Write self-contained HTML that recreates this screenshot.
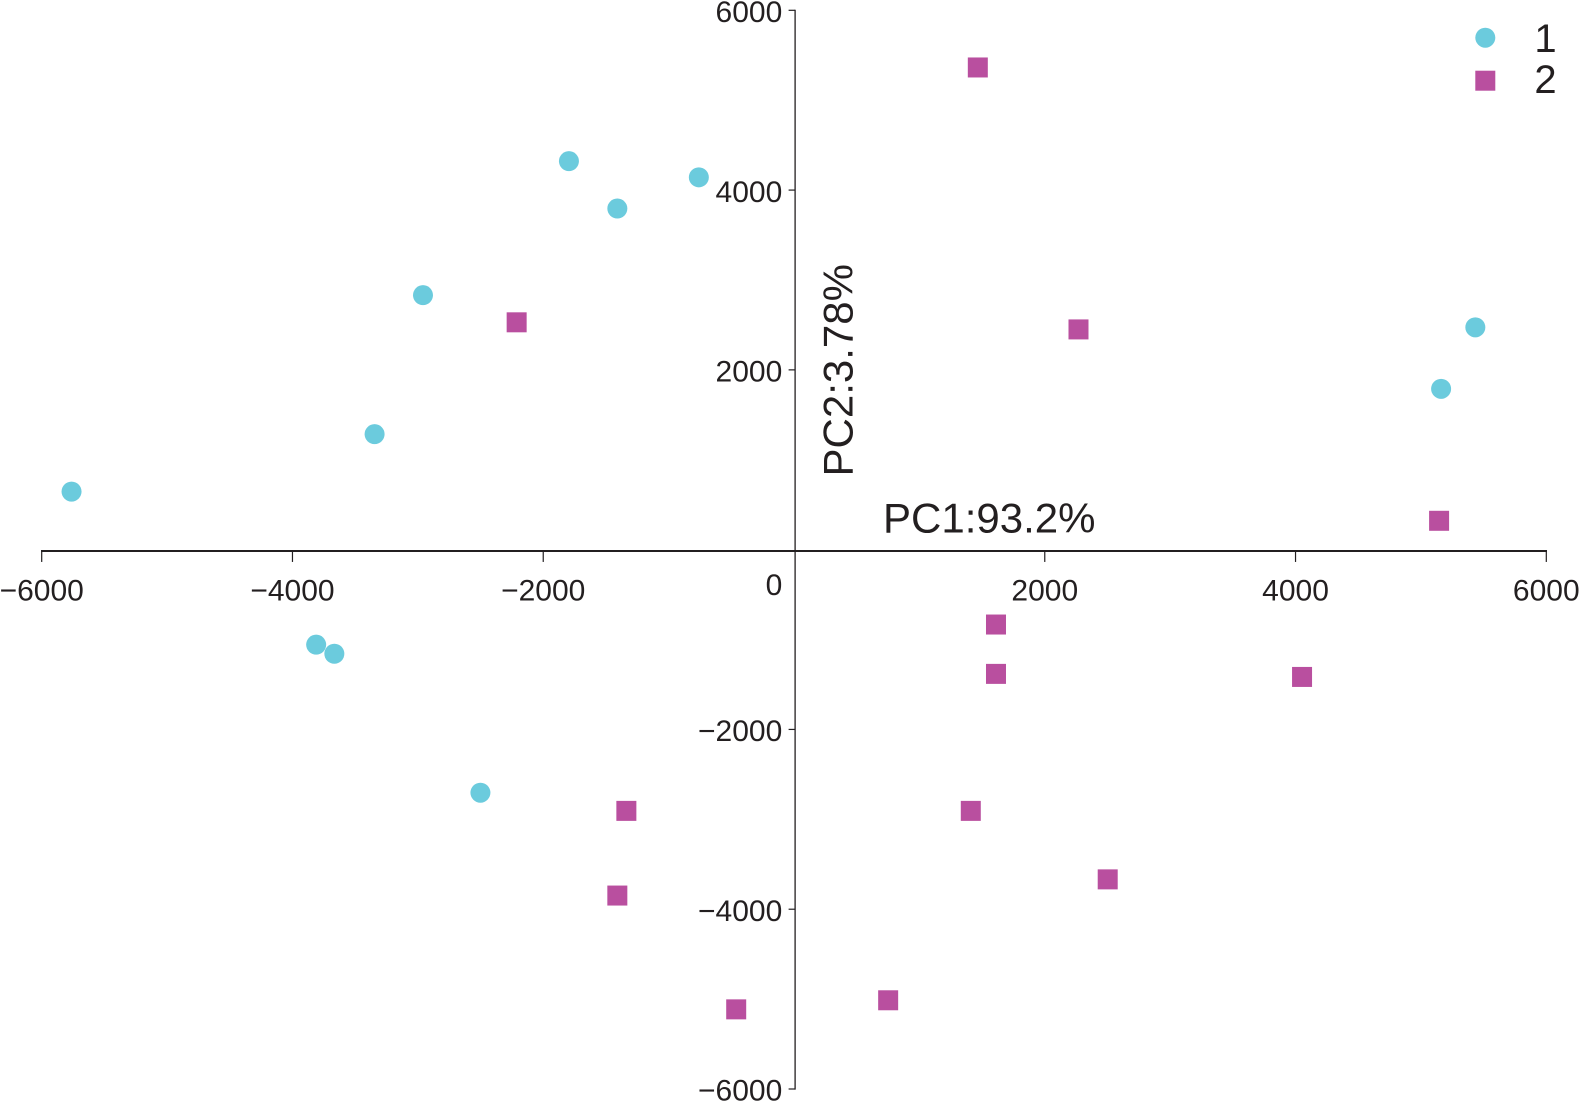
<!DOCTYPE html>
<html lang="en">
<head>
<meta charset="utf-8">
<title>PCA scatter plot</title>
<style>
html,body{margin:0;padding:0;background:#fff;width:1579px;height:1101px;overflow:hidden}
svg{display:block;font-family:"Liberation Sans",Arial,sans-serif;fill:#231f20}
</style>
</head>
<body>
<svg id="chart" xmlns="http://www.w3.org/2000/svg" width="1579" height="1101" viewBox="0 0 1579 1101">
  <text x="883" y="532.5" font-size="42">PC1:93.2%</text>
  <text transform="translate(852.3 476.5) rotate(-90)" font-size="42">PC2:3.78%</text>
  <g>
    <circle cx="1485.3" cy="37.7" r="10" fill="#6bcbdd"></circle>
    <text x="1545.5" y="52" font-size="40" text-anchor="middle">1</text>
    <rect x="1475.3" y="70.7" width="20" height="20" fill="#b94f9f"></rect>
    <text x="1545.5" y="93" font-size="40" text-anchor="middle">2</text>
  </g>
</svg>
<script>
const xTicks = [-6000, -4000, -2000, 2000, 4000, 6000];
const yTicks = [-6000, -4000, -2000, 2000, 4000, 6000];
const series1X = [-5762, -1795, -1409, -759, -2959, -3345, -3811, -3666, -2501, 5434, 5161];
const series1Y = [646, 4322, 3795, 4142, 2831, 1285, -1057, -1158, -2704, 2473, 1789];
const series2X = [1466, -2212, 2269, 5145, 1611, 1611, 4052, -1337, 1410, -1409, 2502, -461, 751];
const series2Y = [5364, 2529, 2450, 321, -833, -1382, -1416, -2906, -2906, -3848, -3668, -5114, -5013];

const svg = document.getElementById('chart');
const NS = 'http://www.w3.org/2000/svg';
function sx(v) { return 41.7 + (v + 6000) / 12000 * (1546.3 - 41.7); }
function sy(v) { return 10.3 + (6000 - v) / 12000 * (1089 - 10.3); }
function make(tag, attrs) {
  const el = document.createElementNS(NS, tag);
  for (const k in attrs) el.setAttribute(k, attrs[k]);
  return el;
}
function label(v) { return v < 0 ? '\u2212' + Math.abs(v) : String(v); }

const axisX = sy(0) + 1.3;
const axisY = sx(0) + 1.1;

const xLine = make('line', {x1: sx(-6000) - 0.7, x2: sx(6000) + 0.7, y1: axisX, y2: axisX, stroke: '#231f20', 'stroke-width': 2});


svg.appendChild(xLine);

const yLine = make('line', {x1: axisY, x2: axisY, y1: sy(6000) - 0.6, y2: sy(-6000) + 0.6, stroke: '#231f20', 'stroke-width': 1.3});


svg.appendChild(yLine);

xTicks.forEach(function (v) {
  const t = make('line', {x1: sx(v), x2: sx(v), y1: axisX, y2: axisX + 11, stroke: '#231f20', 'stroke-width': 1.2});
  
  
  svg.appendChild(t);
  const l = make('text', {x: sx(v), y: 600.7, 'font-size': 30, 'text-anchor': 'middle'});
  l.textContent = label(v);
  
  
  svg.appendChild(l);
});

yTicks.forEach(function (v) {
  const t = make('line', {x1: axisY - 6.5, x2: axisY, y1: sy(v), y2: sy(v), stroke: '#231f20', 'stroke-width': 1.2});
  
  
  svg.appendChild(t);
  const l = make('text', {x: 782.3, y: sy(v) + 11.7, 'font-size': 30, 'text-anchor': 'end'});
  l.textContent = label(v);
  
  
  svg.appendChild(l);
});

const zero = make('text', {x: 782.3, y: 595, 'font-size': 30, 'text-anchor': 'end'});
zero.textContent = '0';


svg.appendChild(zero);

series1X.forEach(function (v, i) {
  const c = make('circle', {cx: sx(v), cy: sy(series1Y[i]), r: 10, fill: '#6bcbdd'});
  
  
  svg.appendChild(c);
});

series2X.forEach(function (v, i) {
  const r = make('rect', {x: sx(v) - 10, y: sy(series2Y[i]) - 10, width: 20, height: 20, fill: '#b94f9f'});
  
  
  svg.appendChild(r);
});
</script>
</body>
</html>
